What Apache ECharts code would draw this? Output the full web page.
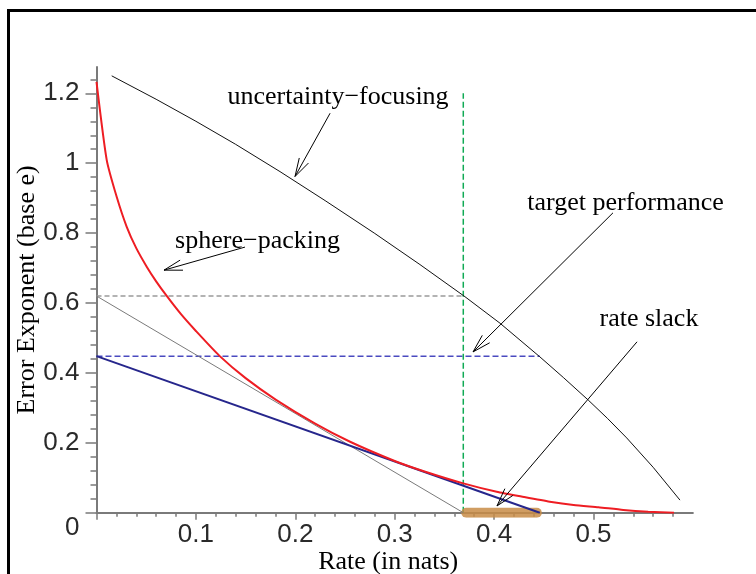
<!DOCTYPE html>
<html><head><meta charset="utf-8">
<script src="https://cdn.jsdelivr.net/npm/echarts@6/dist/echarts.min.js"></script>
<style>html,body{margin:0;padding:0;background:#fff}#c{width:756px;height:574px}</style>
</head><body><div id="c"></div>
<script>
// ---- data ----
var xMajorTicks = [0, 0.1, 0.2, 0.3, 0.4, 0.5];
var xLabels = [0.1, 0.2, 0.3, 0.4, 0.5];
var xMinorTicks = [0.02,0.04,0.06,0.08,0.12,0.14,0.16,0.18,0.22,0.24,0.26,0.28,0.32,0.34,0.36,0.38,0.42,0.44,0.46,0.48,0.52,0.54,0.56,0.58];
var yMajorTicks = [0, 0.2, 0.4, 0.6, 0.8, 1.0, 1.2];
var yMinorTicks = [0.04,0.08,0.12,0.16,0.24,0.28,0.32,0.36,0.44,0.48,0.52,0.56,0.64,0.68,0.72,0.76,0.84,0.88,0.92,0.96,1.04,1.08,1.12,1.16,1.24];

var spherePacking = [[0,1.233],[0.0103,1.009],[0.0203,0.904],[0.0304,0.818],[0.04,0.757],[0.0505,0.704],[0.06,0.662],[0.0712,0.618],[0.085,0.568],[0.1,0.52],[0.124,0.448],[0.15,0.385],[0.1806,0.323],[0.22,0.255],[0.2551,0.203],[0.3,0.148],[0.33,0.118],[0.369,0.084],[0.4026,0.060],[0.43,0.045],[0.456,0.0315],[0.48,0.022],[0.505,0.0155],[0.53,0.008],[0.555,0.003],[0.581,0]];
var uncertaintyFocusing = [[0.0153,1.250],[0.06,1.183],[0.1,1.120],[0.14,1.054],[0.1846,0.976],[0.23,0.893],[0.28,0.799],[0.3254,0.710],[0.3707,0.618],[0.406,0.542],[0.446,0.446],[0.47,0.386],[0.4948,0.322],[0.514,0.270],[0.5334,0.214],[0.56,0.130],[0.587,0.036]];
var grayTangent = [[0,0.62],[0.369,0]];
var blueTangent = [[0,0.448],[0.446,0]];
var grayLevel = [[0,0.62],[0.369,0.62]];
var blueLevel = [[0,0.448],[0.446,0.448]];
var targetRate = [[0.369,0],[0.369,1.2]];
var rateSlack = [[0.372,0],[0.443,0]];

var annotationTexts = ['uncertainty\u2212focusing','sphere\u2212packing','target performance','rate slack'];
var annotationPos = [[0.2430,1.189],[0.1620,0.777],[0.5322,0.886],[0.5558,0.554]];
var arrows = [[0.235,1.143,0.1997,0.962],[0.1494,0.760,0.0679,0.694],[0.5196,0.858,0.3788,0.460],[0.5438,0.489,0.4029,0.0192]];

var AX = '#7a7a7a';
var chart = echarts.init(document.getElementById('c'), null, {renderer:'canvas'});
function fmtY(v){ if (Math.abs(v) < 1e-9) return '{z|0}'; return String(Math.round(v*10)/10); }
var option = {
  animation:false,
  backgroundColor:'#fff',
  grid:{left:96.5, right:63.1, top:67.1, bottom:61.3, outerBoundsMode:'none'},
  xAxis:[{
    type:'value', min:0, max:0.6, gridIndex:0,
    axisLine:{show:true, onZero:false, lineStyle:{color:AX, width:2}},
    axisTick:{show:true, customValues:xMajorTicks, length:7, lineStyle:{color:AX, width:1.5}},
    axisLabel:{show:true, customValues:xLabels, margin:9, fontSize:26, fontFamily:'Liberation Sans', color:'#2a2a2a', formatter:function(v){return String(Math.round(v*10)/10);}},
    splitLine:{show:false},
    name:'Rate (in nats)', nameLocation:'middle', nameGap:36, nameMoveOverlap:false,
    nameTextStyle:{fontSize:26, fontFamily:'Liberation Serif', color:'#000', padding:[0,13,0,0]}
  },{
    type:'value', min:0, max:0.6, gridIndex:0, position:'bottom',
    axisLine:{show:false},
    axisTick:{show:true, customValues:xMinorTicks, length:4, lineStyle:{color:AX, width:1.5}},
    axisLabel:{show:false}, splitLine:{show:false}
  }],
  yAxis:[{
    type:'value', min:0, max:1.275, gridIndex:0,
    axisLine:{show:true, onZero:false, lineStyle:{color:AX, width:2}},
    axisTick:{show:true, customValues:yMajorTicks, length:11, lineStyle:{color:AX, width:1.5}},
    axisLabel:{show:true, customValues:yMajorTicks, margin:17, fontSize:26, fontFamily:'Liberation Sans', color:'#2a2a2a', formatter:fmtY,
      rich:{z:{fontSize:26, fontFamily:'Liberation Sans', color:'#2a2a2a', padding:[30,0,0,0]}}},
    splitLine:{show:false},
    name:'Error Exponent (base e)', nameLocation:'middle', nameGap:56, nameRotate:90, nameMoveOverlap:false,
    nameTextStyle:{fontSize:26, fontFamily:'Liberation Serif', color:'#000'}
  },{
    type:'value', min:0, max:1.275, gridIndex:0, position:'left',
    axisLine:{show:false},
    axisTick:{show:true, customValues:yMinorTicks, length:6, lineStyle:{color:AX, width:1.5}},
    axisLabel:{show:false}, splitLine:{show:false}
  }],
  graphic:[
    {type:'line', shape:{x1:7, y1:10.5, x2:756, y2:10.5}, style:{stroke:'#000', lineWidth:3}, z:100},
    {type:'line', shape:{x1:8.5, y1:9, x2:8.5, y2:574}, style:{stroke:'#000', lineWidth:3}, z:100}
  ],
  series:[
    {type:'line', data:grayLevel, symbol:'none', lineStyle:{color:'#9a9a9a', width:1.5, type:[5,3]}, z:2},
    {type:'line', data:blueLevel, symbol:'none', lineStyle:{color:'#4a4ac0', width:1.5, type:[6,3]}, z:2},
    {type:'line', data:targetRate, symbol:'none', lineStyle:{color:'#11aa55', width:1.5, type:[6,3]}, z:2},
    {type:'line', data:rateSlack, symbol:'none', lineStyle:{color:'rgba(200,140,70,0.85)', width:10, cap:'round'}, z:3},
    {type:'line', data:grayTangent, symbol:'none', lineStyle:{color:'#7a7a7a', width:1}, z:4},
    {type:'line', data:blueTangent, symbol:'none', lineStyle:{color:'#26268c', width:2}, z:4},
    {type:'line', data:uncertaintyFocusing, symbol:'none', lineStyle:{color:'#111', width:1}, z:4},
    {type:'line', data:spherePacking, symbol:'none', smooth:0.2, lineStyle:{color:'#ee1d23', width:2}, z:5},
    {type:'custom', data:arrows, z:10, clip:false,
      renderItem:function(params, api){
        var t = api.coord([api.value(0), api.value(1)]);
        var h = api.coord([api.value(2), api.value(3)]);
        var ang = Math.atan2(t[1]-h[1], t[0]-h[0]);
        var L = 19, a = 16*Math.PI/180;
        var w1 = [h[0]+L*Math.cos(ang+a), h[1]+L*Math.sin(ang+a)];
        var w2 = [h[0]+L*Math.cos(ang-a), h[1]+L*Math.sin(ang-a)];
        return {type:'group', children:[
          {type:'line', shape:{x1:t[0], y1:t[1], x2:h[0], y2:h[1]}, style:{stroke:'#000', lineWidth:1}},
          {type:'polyline', shape:{points:[w1,h,w2]}, style:{stroke:'#000', fill:null, lineWidth:1}}
        ]};
      }},
    {type:'custom', data:annotationPos, z:10, clip:false,
      renderItem:function(params, api){
        var p = api.coord([api.value(0), api.value(1)]);
        return {type:'text', x:p[0], y:p[1], style:{text:annotationTexts[params.dataIndex], fontSize:26, fontFamily:'Liberation Serif', fill:'#000', align:'center', verticalAlign:'middle'}};
      }}
  ]
};
chart.setOption(option);
</script></body></html>
